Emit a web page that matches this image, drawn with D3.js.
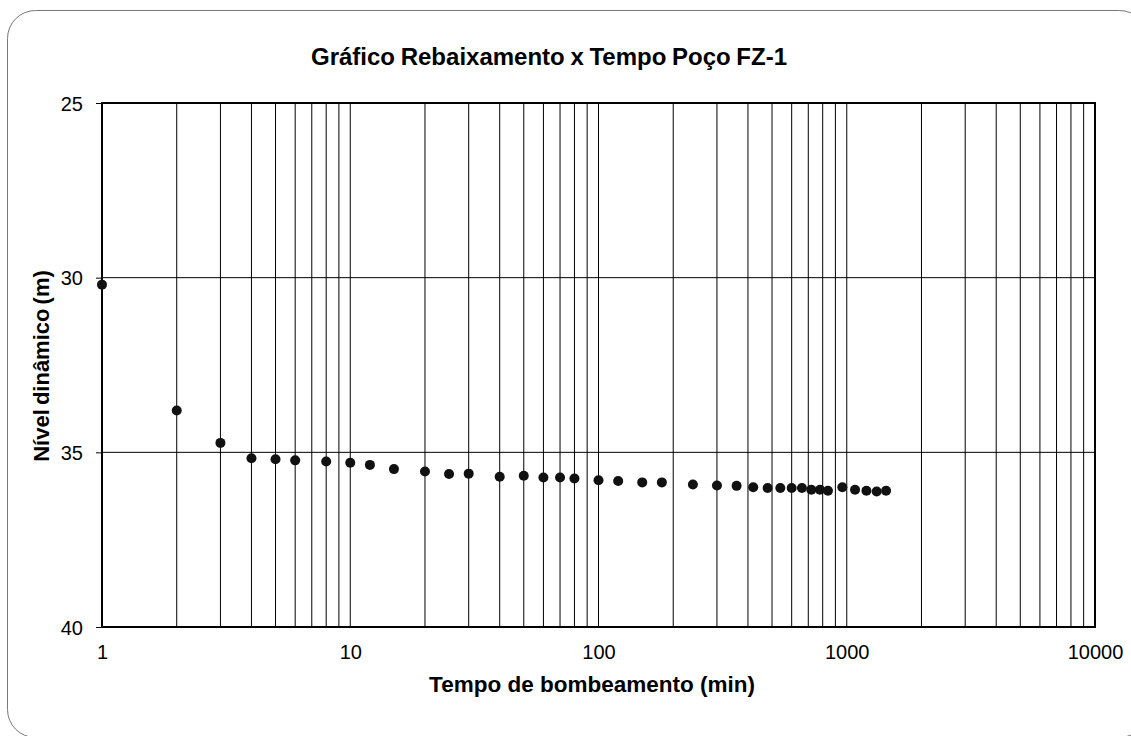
<!DOCTYPE html>
<html><head><meta charset="utf-8">
<script src="https://cdn.jsdelivr.net/npm/d3@7"></script>
<style>body{margin:0;background:#fff}svg{display:block}text{font-family:"Liberation Sans",Arial,sans-serif}</style>
</head><body><svg id="c" width="1131" height="736"></svg>
<script>
const times = [1,2,3,4,5,6,8,10,12,15,20,25,30,40,50,60,70,80,100,120,150,180,240,300,360,420,480,540,600,660,720,780,840,960,1080,1200,1320,1440];
const levels = [30.2,33.8,34.73,35.17,35.2,35.23,35.26,35.3,35.36,35.48,35.55,35.62,35.61,35.7,35.67,35.72,35.72,35.75,35.8,35.82,35.86,35.86,35.92,35.95,35.96,36.0,36.02,36.02,36.02,36.02,36.07,36.07,36.1,36.0,36.07,36.1,36.12,36.1];
const xTickLabels = [1,10,100,1000,10000];
const yTickLabels = [25,30,35,40];
const title = "Gráfico Rebaixamento x Tempo Poço FZ-1";
const xTitle = "Tempo de bombeamento (min)";
const yTitle = "Nível dinâmico (m)";

const svg = d3.select("#c");
const L=102, R=1095, T=103, B=627;
const x = d3.scaleLog().domain([1,10000]).range([L,R]);
const y = d3.scaleLinear().domain([25,40]).range([T,B]);

svg.append("rect").attr("x",7.5).attr("y",10.5).attr("width",1140).attr("height",727)
  .attr("rx",28).attr("fill","#fff").attr("stroke","#777").attr("stroke-width",1);

const vgrid = [];
for (let d=1; d<10000; d*=10) for (let k=1;k<10;k++) if (d*k>1) vgrid.push(d*k);
svg.append("g").selectAll("line").data(vgrid).join("line")
  .attr("x1",d=>x(d)).attr("x2",d=>x(d)).attr("y1",T).attr("y2",B)
  .attr("stroke","#000").attr("stroke-width",1);
svg.append("g").selectAll("line").data(yTickLabels).join("line")
  .attr("x1",L).attr("x2",R).attr("y1",d=>y(d)).attr("y2",d=>y(d))
  .attr("stroke","#000").attr("stroke-width",1);

svg.append("rect").attr("x",L).attr("y",T).attr("width",R-L).attr("height",B-T)
  .attr("fill","none").attr("stroke","#000").attr("stroke-width",2);

const ya = d3.axisLeft(y).tickValues(yTickLabels).tickSize(6).tickPadding(13).tickFormat(d3.format("d"));
const gy = svg.append("g").attr("transform",`translate(${L},0)`).call(ya);
gy.select(".domain").remove();
gy.selectAll("line").attr("stroke","#000");
gy.selectAll("text").attr("font-size",20).attr("fill","#000").attr("dy","0.35em");

const xa = d3.axisBottom(x).tickValues(xTickLabels).tickSize(0).tickPadding(18).tickFormat(d3.format("d"));
const gx = svg.append("g").attr("transform",`translate(0,${B})`).call(xa);
gx.select(".domain").remove();
gx.selectAll("text").attr("font-size",20).attr("fill","#000");

svg.append("g").selectAll("circle").data(times.map((t,i)=>[t,levels[i]])).join("circle")
  .attr("cx",d=>x(d[0])).attr("cy",d=>y(d[1])).attr("r",5).attr("fill","#111");

svg.append("text").attr("x",549).attr("y",65).attr("text-anchor","middle")
  .attr("font-size",24).attr("font-weight","bold").attr("word-spacing",-1).text(title);
svg.append("text").attr("x",592).attr("y",692).attr("text-anchor","middle")
  .attr("font-size",22.5).attr("font-weight","bold").text(xTitle);
svg.append("text").attr("transform",`translate(49,${366}) rotate(-90)`).attr("text-anchor","middle")
  .attr("font-size",22).attr("font-weight","bold").attr("word-spacing",-2).text(yTitle);
</script></body></html>
